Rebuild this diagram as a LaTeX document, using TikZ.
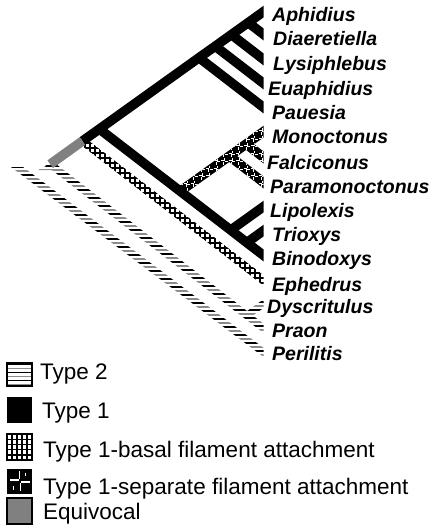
\documentclass[tikz,border=0pt]{standalone}
\usepackage{fontspec}
\setmainfont{Liberation Sans}
\usetikzlibrary{calc}
\definecolor{eqgray}{RGB}{128,128,128}
\definecolor{stripegray}{RGB}{140,140,140}
\tikzset{
  band/.style args={#1/#2/#3}{insert path={($(#1)!#3!90:(#2)$) -- ($(#2)!#3!-90:(#1)$) -- ($(#2)!#3!90:(#1)$) -- ($(#1)!#3!-90:(#2)$) -- cycle}},
  hband/.style args={#1/#2/#3}{insert path={($(#1)+(-#3,0)$) -- ($(#1)+(#3,0)$) -- ($(#2)+(#3,0)$) -- ($(#2)+(-#3,0)$) -- cycle}},
  typeone/.style={draw=black, line width=9.5pt},
  equiv/.style={draw=eqgray, line width=9.5pt},
  taxon/.style={anchor=base west, inner sep=0pt, font=\fontsize{19.5}{22}\selectfont\bfseries\itshape},
  legtext/.style={anchor=base west, inner sep=0pt, font=\fontsize{22.5}{26}\selectfont},
}
\newcommand\typetwostripes[2]{\foreach \i in {0,...,#2}{\pgfmathsetmacro\yy{#1+4*\i}\ifodd\i\relax\draw[stripegray,line width=1.8pt] (0,\yy) -- (300,\yy);\else\draw[black,line width=1.8pt] (0,\yy) -- (300,\yy);\fi}}
\begin{document}
\begin{tikzpicture}[x=1pt,y=-1pt]
\useasboundingbox (0,0) rectangle (430,528);
% tips
\coordinate (tA) at (263,12);
\coordinate (tD) at (263,34);
\coordinate (tL) at (263,59);
\coordinate (tE) at (263,83);
\coordinate (tP) at (263,107);
\coordinate (tM) at (263,132);
\coordinate (tF) at (263,157);
\coordinate (tPm) at (263,182);
\coordinate (tLi) at (263,207);
\coordinate (tT) at (263,231);
\coordinate (tB) at (263,255);
\coordinate (tEp) at (263,280);
\coordinate (tDy) at (263,304);
\coordinate (tPr) at (263,328);
\coordinate (tPe) at (263,352);
% internal nodes
\coordinate (root) at (50.2,164.2);
\coordinate (nAEp) at (82.5,141.0);
\coordinate (nAB) at (99.4,129.0);
\coordinate (nAP) at (199.0,57.7);
\coordinate (nAE) at (215.2,46.2);
\coordinate (nAL) at (231.4,34.6);
\coordinate (nAD) at (248.2,22.6);
\coordinate (nMB) at (180.2,191.2);
\coordinate (nMPm) at (229.3,156.1);
\coordinate (nMF) at (246.2,144.0);
\coordinate (nLiB) at (230.7,230.1);
\coordinate (nTB) at (246.8,242.6);
\coordinate (nDyPr) at (246.8,315.6);
\coordinate (pe0) at (17,167);
\coordinate (rootstart) at (46,166);
% extensions beyond tips (clipped)
\coordinate (xA) at ($(tA)!-14pt!(nAD)$);
\coordinate (xD) at ($(tD)!-14pt!(nAD)$);
\coordinate (xL) at ($(tL)!-14pt!(nAL)$);
\coordinate (xE) at ($(tE)!-14pt!(nAE)$);
\coordinate (xP) at ($(tP)!-14pt!(nAP)$);
\coordinate (xM) at ($(tM)!-14pt!(nMF)$);
\coordinate (xF) at ($(tF)!-14pt!(nMF)$);
\coordinate (xPm) at ($(tPm)!-14pt!(nMPm)$);
\coordinate (xLi) at ($(tLi)!-14pt!(nLiB)$);
\coordinate (xT) at ($(tT)!-14pt!(nTB)$);
\coordinate (xB) at ($(tB)!-14pt!(nTB)$);
\coordinate (xEp) at ($(tEp)!-14pt!(nAEp)$);
\coordinate (xDy) at ($(tDy)!-14pt!(nDyPr)$);
\coordinate (xPr) at ($(tPr)!-14pt!(nDyPr)$);
\coordinate (xPe) at ($(tPe)!-14pt!(pe0)$);

\begin{scope}
\clip (0,0) rectangle (263.5,400);
% Type 2 bands (horizontal stripes)
\begin{scope}
\clip (root) [hband=root/xPr/6];
\typetwostripes{166}{48}
\end{scope}
\begin{scope}
\clip (rootstart) -- (56,166) -- (56,170) -- (38,170) -- cycle;
\typetwostripes{166}{2}
\end{scope}
\begin{scope}
\clip (xDy) [hband=xDy/nDyPr/6];
\typetwostripes{166}{48}
\end{scope}
\begin{scope}
\clip (pe0) [hband=pe0/xPe/6];
\typetwostripes{167}{50}
\end{scope}
% Ephedrus: basal filament attachment (grid)
\begin{scope}
\clip (nAEp) [band=nAEp/xEp/4pt];
\foreach \g in {0,...,45} {\draw[line width=1.1pt] ({80+5*\g},100) -- ({80+5*\g},320);}
\foreach \g in {0,...,40} {\draw[line width=1.1pt] (60,{138+5*\g}) -- (300,{138+5*\g});}
\end{scope}
% Monoctonus group: separate filament attachment
\draw[typeone] (nMB) -- (nMPm) -- (nMF) -- (xM);
\draw[typeone] (nMF) -- (xF);
\draw[typeone] (nMPm) -- (xPm);
\begin{scope}
\clip (nMB) [band=nMB/nMPm/4.75pt] [band=nMPm/nMF/4.75pt] [band=nMF/xM/4.75pt] [band=nMF/xF/4.75pt] [band=nMPm/xPm/4.75pt];
\foreach \ox in {168,175.5,...,275} {
  \foreach \oy in {120,127.5,...,210} {
    \draw[white,line width=1pt] (\ox+4.3,\oy+0.6) -- (\ox+4.3,\oy+3.3);
    \draw[white,line width=1pt] (\ox+0.6,\oy+3.3) -- (\ox+3.5,\oy+3.3);
    \draw[white,line width=1pt] (\ox+3.2,\oy+4.3) -- (\ox+3.2,\oy+7);
    \draw[white,line width=1pt] (\ox+4,\oy+4.3) -- (\ox+7,\oy+4.3);
  }
}
\end{scope}
% Type 1 (black)
\draw[typeone] (nAEp) -- (nAB) -- (nAP) -- (nAE) -- (nAL) -- (nAD) -- (xA);
\draw[typeone] (nAD) -- (xD);
\draw[typeone] (nAL) -- (xL);
\draw[typeone] (nAE) -- (xE);
\draw[typeone] (nAP) -- (xP);
\draw[typeone] (nAB) -- (nMB) -- (nLiB) -- (nTB) -- (xB);
\draw[typeone] (nLiB) -- (xLi);
\draw[typeone] (nTB) -- (xT);
% Equivocal
\draw[equiv] (root) -- (nAEp);
\end{scope}

% taxon labels
\node[taxon] (lA) at (272,21) {Aphidius};
\node[taxon] (lD) at (273,45) {Diaeretiella};
\node[taxon] (lL) at (273,70) {Lysiphlebus};
\node[taxon] (lE) at (268,95) {Euaphidius};
\node[taxon] (lP) at (272,119) {Pauesia};
\node[taxon] (lM) at (272,143) {Monoctonus};
\node[taxon] (lF) at (267,169) {Falciconus};
\node[taxon] (lPm) at (270,193) {Paramonoctonus};
\node[taxon] (lLi) at (270,217) {Lipolexis};
\node[taxon] (lT) at (272,241) {Trioxys};
\node[taxon] (lB) at (272,265) {Binodoxys};
\node[taxon] (lEp) at (272,291) {Ephedrus};
\node[taxon] (lDy) at (267,313) {Dyscritulus};
\node[taxon] (lPr) at (272,337) {Praon};
\node[taxon] (lPe) at (272,360) {Perilitis};

% legend
\begin{scope}
\clip (7,363) rectangle (32,386);
\typetwostripes{364.5}{6}
\end{scope}
\draw[line width=1.6pt] (7,363) rectangle (32,386);
\fill[black] (7,397) rectangle (32,423);
\begin{scope}
\foreach \g in {0,...,5} {\draw[line width=1.4pt] ({7+5*\g},434) -- ({7+5*\g},460);}
\foreach \g in {0,...,5} {\draw[line width=1.4pt] (7,{434+5.2*\g}) -- (32,{434+5.2*\g});}
\end{scope}
\draw[line width=2pt] (7,434) rectangle (32,460);
\fill[black] (7,469) rectangle (32,494);
\draw[white,line width=1.3pt] (19.5,471) -- (19.5,479);
\draw[white,line width=1.3pt] (10,480) -- (19,480);
\draw[white,line width=1.3pt] (21,482) -- (29.5,482);
\draw[white,line width=1.3pt] (20.5,483) -- (20.5,491);
\draw[white,line width=1.3pt] (25.5,472.5) -- (25.5,476);
\draw[white,line width=1.3pt] (13.5,486) -- (13.5,489.5);
\fill[eqgray] (7,498) rectangle (32,524);
\draw[line width=2pt] (7,498) rectangle (32,524);

\node[legtext] (k2) at (40,379) {Type 2};
\node[legtext] (k1) at (42,418) {Type 1};
\node[legtext] (kb) at (43,457) {Type 1-basal filament attachment};
\node[legtext] (ks) at (43,494) {Type 1-separate filament attachment};
\node[legtext] (ke) at (43,519) {Equivocal};
\end{tikzpicture}
\end{document}
